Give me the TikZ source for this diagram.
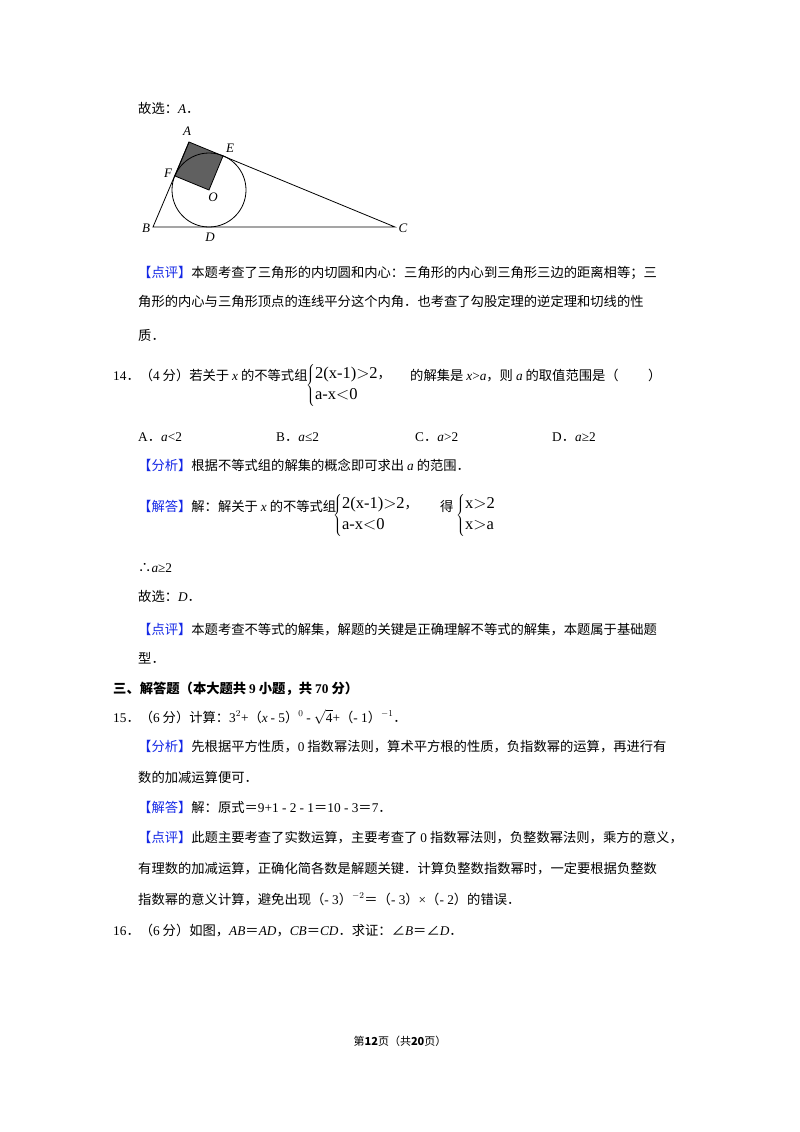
\documentclass[tikz,border=0pt]{standalone}
\usepackage{fontspec}
\setmainfont{Noto Sans CJK SC}
\newfontfamily\lat{Liberation Serif}
\newfontfamily\cjk{Noto Sans CJK SC}
\newcommand{\iv}[1]{{\lat\itshape #1}}
\newcommand{\rmn}[1]{{\lat #1}}
\definecolor{tagblue}{RGB}{20,40,230}
\newcommand{\tg}[1]{{\color{tagblue}【#1】}}
\begin{document}
\begin{tikzpicture}[x=1pt,y=-1pt,
  tx/.style={anchor=base west,inner sep=0pt,font=\fontsize{13.3}{16}\selectfont},
  lb/.style={inner sep=0pt,font=\lat\itshape\fontsize{13}{14}\selectfont},
  sys/.style={anchor=west,inner sep=0pt,font=\lat\fontsize{16.5}{20}\selectfont}]
\useasboundingbox[fill=white] (0,0) rectangle (800,1132);
\newcommand{\T}[4]{\node[tx] (#1) at (#2,#3) {#4};}
\T{l1}{138}{113}{故选：\iv{A}．}
% figure
\coordinate (B) at (153,227);
\coordinate (C) at (395,227);
\coordinate (A) at (189,142);
\coordinate (E) at (223,156);
\coordinate (F) at (175,176);
\coordinate (O) at (209,190);
\fill[gray!75!black] (A) -- (E) -- (O) -- (F) -- cycle;
\draw[line width=0.8pt] (A) -- (E) -- (O) -- (F) -- cycle;
\draw[line width=0.8pt] (O) circle (37);
\draw[line width=0.8pt] (A) -- (B) -- (C) -- (E);
\node[lb] (lA) at (187,131) {A};
\node[lb] (lE) at (230,148) {E};
\node[lb] (lF) at (168,173) {F};
\node[lb] (lO) at (213,197) {O};
\node[lb] (lB) at (146,228) {B};
\node[lb] (lD) at (210,237) {D};
\node[lb] (lC) at (403,228) {C};
\T{p1}{138}{277}{\tg{点评}本题考查了三角形的内切圆和内心：三角形的内心到三角形三边的距离相等；三}
\T{p2}{138}{306}{角形的内心与三角形顶点的连线平分这个内角．也考查了勾股定理的逆定理和切线的性}
\T{p3}{138}{340}{质．}
\T{q14}{113}{380}{\rmn{14}．（\rmn{4} 分）若关于 \iv{x} 的不等式组}
\node[sys] (s1) at (306,385) {$\left\{\begin{array}{@{}l@{}}\mbox{2(x-1)$>$2{\cjk\fontsize{13.3}{16}\selectfont ，}}\\[1pt] \mbox{a-x$<$0}\end{array}\right.$};
\T{q14b}{410}{380}{的解集是 \iv{x}\rmn{>}\iv{a}，则 \iv{a} 的取值范围是（\hspace{2.2em}）}
\T{oA}{138}{441}{\rmn{A}．\rmn{\iv{a}<2}}
\T{oB}{276}{441}{\rmn{B}．\rmn{\iv{a}≤2}}
\T{oC}{415}{441}{\rmn{C}．\rmn{\iv{a}>2}}
\T{oD}{552}{441}{\rmn{D}．\rmn{\iv{a}≥2}}
\T{a1}{138}{470}{\tg{分析}根据不等式组的解集的概念即可求出 \iv{a} 的范围．}
\T{a2}{138}{511}{\tg{解答}解：解关于 \iv{x} 的不等式组}
\node[sys] (s2) at (333,515) {$\left\{\begin{array}{@{}l@{}}\mbox{2(x-1)$>$2{\cjk\fontsize{13.3}{16}\selectfont ，}}\\[1pt] \mbox{a-x$<$0}\end{array}\right.$};
\T{a2b}{440}{511}{得}
\node[sys] (s3) at (456,515) {$\left\{\begin{array}{@{}l@{}}\mbox{x$>$2}\\[1pt] \mbox{x$>$a}\end{array}\right.$};
\T{a3}{138}{572}{∴\iv{a}\rmn{≥2}}
\T{a4}{138}{601}{故选：\iv{D}．}
\T{a5}{138}{634}{\tg{点评}本题考查不等式的解集，解题的关键是正确理解不等式的解集，本题属于基础题}
\T{a6}{138}{663}{型．}
\T{h3}{113}{693}{\bfseries 三、解答题（本大题共 \rmn{9} 小题，共 \rmn{70} 分）}
\T{q15}{113}{722}{\rmn{15}．（\rmn{6} 分）计算：\rmn{3$^{2}$+}（\iv{x} \rmn{- 5}）$^{\lat 0}$ \rmn{-} $\sqrt{\mbox{\rmn{4}}}$\rmn{+}（\rmn{- 1}）$^{\lat -1}$．}
\T{b1}{138}{751}{\tg{分析}先根据平方性质，\rmn{0} 指数幂法则，算术平方根的性质，负指数幂的运算，再进行有}
\T{b2}{138}{782}{数的加减运算便可．}
\T{b3}{138}{812}{\tg{解答}解：原式＝\rmn{9+1 - 2 - 1}＝\rmn{10 - 3}＝\rmn{7}．}
\T{b4}{138}{842}{\tg{点评}此题主要考查了实数运算，主要考查了 \rmn{0} 指数幂法则，负整数幂法则，乘方的意义，}
\T{b5}{138}{873}{有理数的加减运算，正确化简各数是解题关键．计算负整数指数幂时，一定要根据负整数}
\T{b6}{138}{904}{指数幂的意义计算，避免出现（\rmn{- 3}）$^{\lat -2}$＝（\rmn{- 3}）\rmn{×}（\rmn{- 2}）的错误．}
\T{q16}{113}{935}{\rmn{16}．（\rmn{6} 分）如图，\iv{AB}＝\iv{AD}，\iv{CB}＝\iv{CD}．求证：∠\iv{B}＝∠\iv{D}．}
\node[inner sep=0pt,font=\fontsize{11}{13}\selectfont] (ft) at (400,1041) {第\textbf{12}页（共\textbf{20}页）};
\end{tikzpicture}
\end{document}
